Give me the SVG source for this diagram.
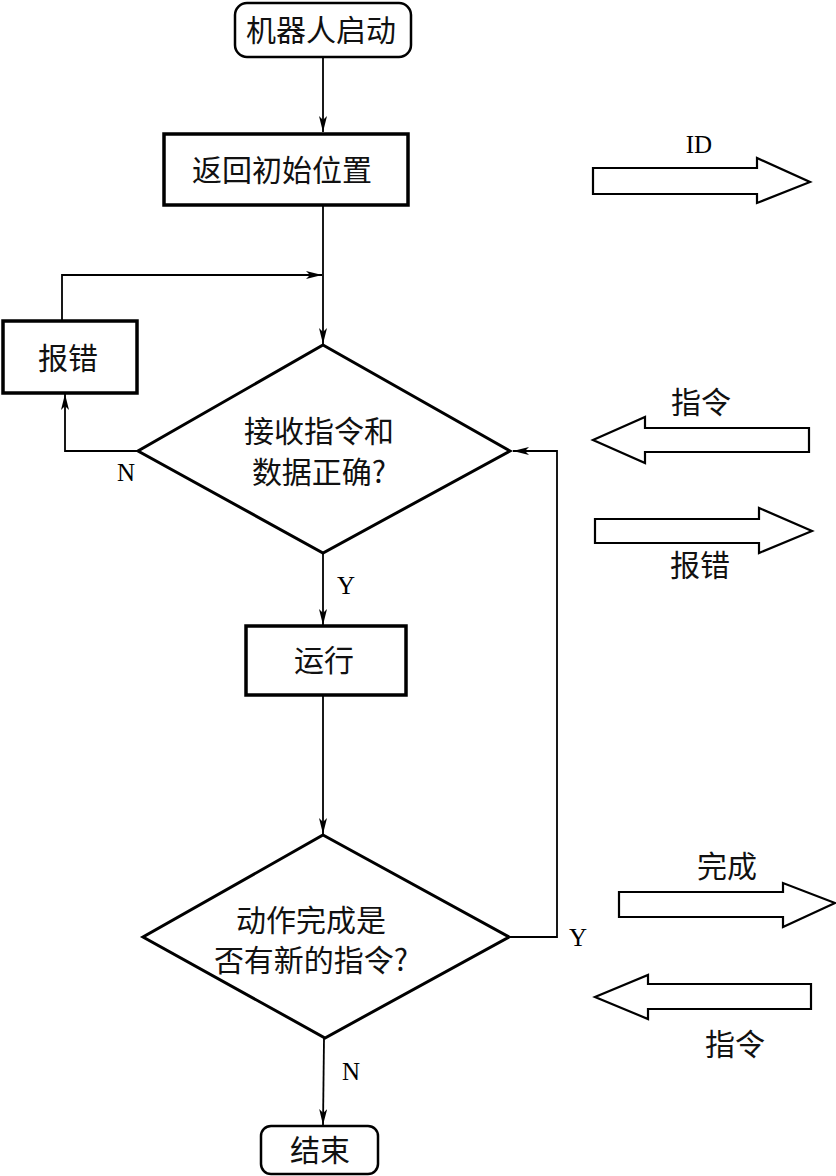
<svg xmlns="http://www.w3.org/2000/svg" width="836" height="1176" viewBox="0 0 836 1176">
<style>
.box{fill:#fff;stroke:#000;stroke-width:3.5}
.term{fill:#fff;stroke:#000;stroke-width:2.5}
.dia{fill:#fff;stroke:#000;stroke-width:3}
.con{fill:none;stroke:#000;stroke-width:1.8}
.blk{fill:#fff;stroke:#000;stroke-width:2.2;stroke-linejoin:miter}
.cjk{font-family:"Noto Sans CJK SC","Noto Sans CJK JP",sans-serif;font-size:30px;fill:#111;text-anchor:middle}
.lat{font-family:"Liberation Serif",serif;font-size:25px;fill:#000;text-anchor:middle}
</style>
<defs>
<marker id="ah" viewBox="0 0 16 8" refX="16" refY="4" markerWidth="16" markerHeight="8" markerUnits="userSpaceOnUse" orient="auto">
<path d="M0,0 L16,4 L0,8 L4,4 Z" fill="#000"/>
</marker>
</defs>
<g id="connectors">
<line class="con" x1="323" y1="57" x2="323" y2="132" marker-end="url(#ah)"/>
<line class="con" x1="323" y1="205" x2="323" y2="344" marker-end="url(#ah)"/>
<polyline class="con" points="62,321 62,275 322,275" marker-end="url(#ah)"/>
<polyline class="con" points="138,451 65,451 65,394" marker-end="url(#ah)"/>
<line class="con" x1="323" y1="553" x2="323" y2="625" marker-end="url(#ah)"/>
<line class="con" x1="323" y1="695" x2="323" y2="834" marker-end="url(#ah)"/>
<polyline class="con" points="509,937 557,937 557,451 513,451" marker-end="url(#ah)"/>
<line class="con" x1="324" y1="1038" x2="323" y2="1125" marker-end="url(#ah)"/>
<text class="lat" x="126" y="481">N</text>
<text class="lat" x="346" y="594">Y</text>
<text class="lat" x="578" y="946">Y</text>
<text class="lat" x="351" y="1080">N</text>
</g>
<g id="start">
<rect class="term" x="235" y="3" width="176" height="54" rx="12"/>
<text class="cjk" x="321" y="41">机器人启动</text>
</g>
<g id="init">
<rect class="box" x="164" y="134" width="244" height="71"/>
<text class="cjk" x="282" y="181">返回初始位置</text>
</g>
<g id="error">
<rect class="box" x="3" y="321" width="134" height="72"/>
<text class="cjk" x="68" y="369">报错</text>
</g>
<g id="check">
<polygon class="dia" points="323,345 510,451 323,553 138,451"/>
<text class="cjk" x="319" y="442">接收指令和</text>
<text class="cjk" x="319" y="483">数据正确?</text>
</g>
<g id="run">
<rect class="box" x="246" y="626" width="160" height="69"/>
<text class="cjk" x="324" y="671">运行</text>
</g>
<g id="done">
<polygon class="dia" points="323,835 509,937 325,1038 143,937"/>
<text class="cjk" x="311" y="931">动作完成是</text>
<text class="cjk" x="311" y="971">否有新的指令?</text>
</g>
<g id="end">
<rect class="term" x="261" y="1126" width="117" height="48" rx="10"/>
<text class="cjk" x="320" y="1161">结束</text>
</g>
<g id="io-id">
<polygon class="blk" points="593,168 757,168 757,158 810,182 757,203 757,194 593,194"/>
<text class="lat" x="699" y="153">ID</text>
</g>
<g id="io-cmd1">
<polygon class="blk" points="809,428 645,428 645,417 593,440 645,463 645,452 809,452"/>
<text class="cjk" x="701" y="413">指令</text>
</g>
<g id="io-err">
<polygon class="blk" points="595,519 759,519 759,508 812,531 759,553 759,543 595,543"/>
<text class="cjk" x="700" y="576">报错</text>
</g>
<g id="io-done">
<polygon class="blk" points="619,892 783,892 783,883 835,903 783,927 783,917 619,917"/>
<text class="cjk" x="727" y="877">完成</text>
</g>
<g id="io-cmd2">
<polygon class="blk" points="811,984 648,984 648,975 595,997 648,1019 648,1009 811,1009"/>
<text class="cjk" x="735" y="1055">指令</text>
</g>
</svg>
